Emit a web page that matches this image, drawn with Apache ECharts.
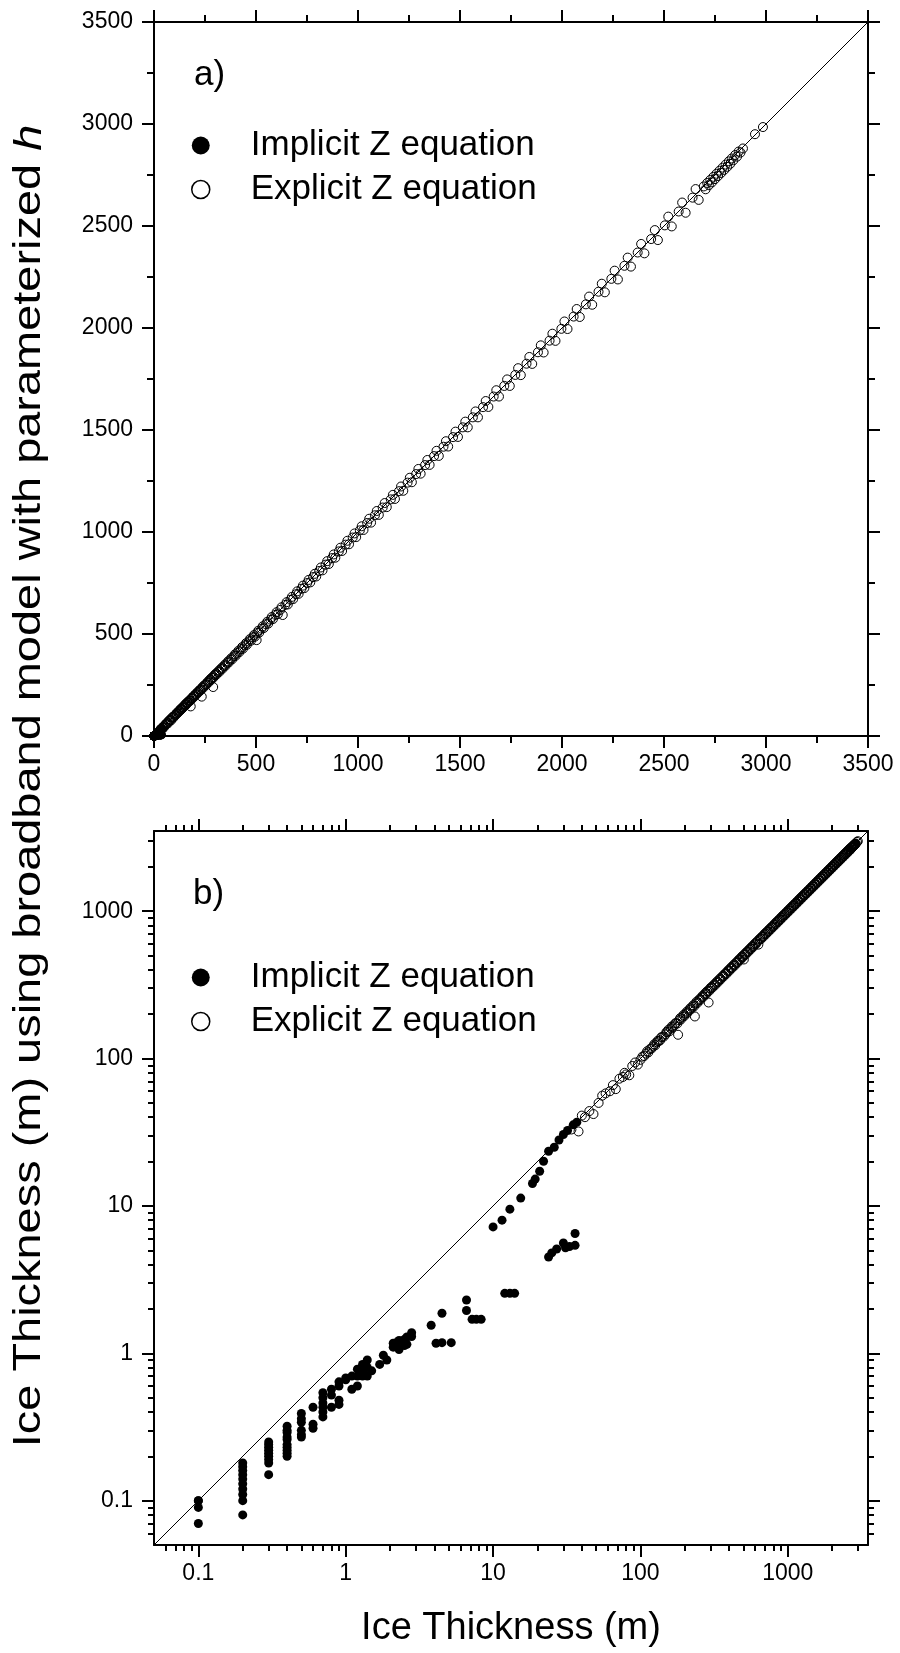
<!DOCTYPE html>
<html><head><meta charset="utf-8">
<script src="https://cdn.jsdelivr.net/npm/echarts@6/dist/echarts.min.js"></script>
<style>html,body{margin:0;padding:0;background:#fff}#c{width:900px;height:1653px}</style>
</head><body><div id="c"></div>
<script>
// ---- data ----
const implicitX = [0.1,0.1,0.1,0.1,
  0.2,0.2,0.2,0.2,0.2,0.2,0.2,0.2,0.2,0.2,
  0.3,0.3,0.3,0.3,0.3,0.3,0.3,0.3,0.3,
  0.4,0.4,0.4,0.4,0.4,0.4,0.4,0.4,0.4,0.4,
  0.5,0.5,0.5,0.5,0.5,0.5,
  0.6,0.6,0.6,
  0.7,0.7,0.7,0.7,0.7,0.7,
  0.8,0.8,0.8,
  0.9,0.9,0.9,0.9,
  1.0,1.0,1.1,1.1,1.2,1.2,1.2,1.3,1.3,1.3,1.4,1.4,1.4,1.5,1.7,1.8,1.9,
  2.1,2.1,2.2,2.2,2.3,2.3,2.5,2.5,2.6,2.6,2.8,2.8,
  3.8,4.1,4.5,4.5,5.2,6.6,6.6,7.2,7.7,8.3,
  10,11.5,12,13,13,14,15.4,18.5,19.3,20.7,22,23.8,23.8,
  26,28,30,32,35,37,
  25,27,30,31,33,36,36];
const implicitY = [0.1,0.1,0.09,0.07,
  0.18,0.17,0.16,0.15,0.14,0.13,0.12,0.11,0.1,0.08,
  0.25,0.24,0.23,0.22,0.21,0.2,0.19,0.18,0.15,
  0.32,0.3,0.29,0.27,0.26,0.24,0.23,0.22,0.21,0.2,
  0.39,0.36,0.34,0.3,0.28,0.27,
  0.43,0.33,0.31,
  0.54,0.5,0.46,0.43,0.4,0.37,
  0.57,0.52,0.43,
  0.64,0.6,0.48,0.45,
  0.68,0.66,0.7,0.57,0.78,0.7,0.6,0.84,0.75,0.7,0.9,0.8,0.7,0.76,0.84,0.97,0.9,
  1.17,1.1,1.18,1.12,1.22,1.06,1.24,1.13,1.29,1.15,1.38,1.3,
  1.55,1.17,1.87,1.18,1.18,2.3,1.95,1.7,1.7,1.7,
  7.2,8.0,2.55,9.5,2.55,2.55,11.3,14.2,15.2,17.2,20.1,23.5,4.5,
  25,28,30.5,32.5,35.5,37,
  4.8,5.1,5.6,5.2,5.3,5.4,6.5];
const explicitX = [34,38,40,42,45,48,52,55,58,62,65,68,72,76,78,80,84,88,92,96,
  100,103,106,109,113,116,119,122,126,129,133,136,140,144,148,152,157,161,165,170,174,178,180,183,188,193,198,203,208,214,
  219,225,231,234,237,243,249,255,261,267,273,279,286,290,293,300,307,314,321,328,336,343,351,359,367,375,383,392,400,409,
  418,427,436,446,455,465,475,485,495,503,506,516,527,538,549,560,571,583,595,607,619,631,644,656,669,682,696,709,723,737,
  751,766,780,795,810,826,841,857,873,889,906,922,939,956,974,991,1009,1027,1045,1064,1083,1102,1121,1141,1161,1181,1201,1222,
  1243,1264,1285,1307,1329,1351,1373,1396,1419,1442,1466,1490,1514,1538,1563,1588,1613,1639,1665,1691,1717,1744,1771,1798,
  1826,1854,1882,1910,1939,1968,1997,2027,2057,2087,2117,2148,2179,2210,2242,2274,2306,2338,2371,2404,2437,2470,2504,2538,
  2572,2606,2640,2670,2695,2704,2712,2720,2727,2735,2742,2750,2757,2765,2772,2780,2787,2795,2802,2810,2818,2825,2832,2840,
  2849,2858,2866,2875,2887,2946,2985,
  111,124,131,138,150,155,163,172,186,196,206,217,228,240,252,264,276,283,296,304,318,332,347,363,379,396,414,432,451,470,
  490,511,533,555,577,601,625,650,676,702,730,758,788,818,849,881,914,948,983,1018,1055,1092,1131,1171,1211,1254,1296,1340,
  1385,1431,1478,1526,1576,1626,1678,1731,1785,1840,1896,1953,2012,2072,2133,2195,2258,2322,2388,2455,2521,2589,2655];
const explicitY = [33,32,41,40,44,42,50,56,58,60,66,62,73,75,80,78,77,89,94,91,
  98,103,104,108,110,116,117,121,123,129,131,133,140,141,146,152,153,160,163,168,174,173,145,182,184,192,194,202,204,213,
  215,224,226,193,236,238,248,250,260,262,272,274,285,240,288,299,302,313,315,327,330,342,345,358,361,374,376,391,393,408,
  411,426,428,445,447,464,467,484,487,470,505,507,526,529,548,551,570,573,594,597,618,593,643,645,668,671,695,697,722,725,
  750,753,779,782,809,812,840,843,872,874,905,907,938,940,973,975,1008,1010,1044,1046,1082,1084,1120,1122,1160,1162,1200,1202,
  1242,1244,1284,1286,1328,1329,1372,1373,1418,1419,1465,1466,1513,1513,1562,1562,1612,1613,1664,1664,1716,1716,1770,1769,
  1825,1824,1881,1880,1938,1937,1996,1995,2056,2054,2116,2114,2178,2175,2241,2238,2305,2301,2370,2366,2436,2431,2503,2498,
  2571,2565,2639,2628,2694,2680,2711,2700,2726,2714,2741,2730,2756,2745,2771,2760,2786,2775,2801,2790,2817,2805,2831,2822,
  2848,2840,2865,2860,2880,2950,2985,
  112,125,132,139,151,157,165,173,188,198,208,219,230,243,254,267,279,286,299,307,321,335,350,366,382,400,418,436,455,475,
  495,516,538,560,583,607,631,656,682,709,737,765,795,826,857,890,923,957,993,1028,1065,1103,1142,1182,1223,1266,1309,1353,
  1398,1445,1492,1541,1591,1642,1695,1748,1803,1858,1915,1972,2032,2093,2154,2217,2281,2345,2412,2480,2546,2615,2681];
const linTickLabels = ['0','500','1000','1500','2000','2500','3000','3500'];
const logMajor = [0.1,1,10,100,1000];
const logMajorLabels = ['0.1','1','10','100','1000'];
const logMinor = [0.06,0.07,0.08,0.09,0.2,0.3,0.4,0.5,0.6,0.7,0.8,0.9,2,3,4,5,6,7,8,9,
  20,30,40,50,60,70,80,90,200,300,400,500,600,700,800,900,2000,3000];
const seriesNames = ['Implicit Z equation','Explicit Z equation'];

// ---- chart ----
const F = "'Liberation Sans', Arial, Helvetica, sans-serif";
const pairs = (xs, ys) => xs.map((x, i) => [x, ys[i]]);
const lineBlk = {color:'#000', width:2};
const gridRectA = {left:154, top:22, width:714, height:714, outerBoundsMode:'none', containLabel:false};
const gridRectB = {left:154, top:831, width:714, height:714, outerBoundsMode:'none', containLabel:false};
const lab = {color:'#000', fontSize:23, fontFamily:F};

function linAxis(pos, grid, showLabel, margin) {
  return {
    type:'value', gridIndex:grid, position:pos, min:0, max:3500, interval:500,
    axisLine:{show:true, onZero:false, lineStyle:lineBlk},
    axisTick:{show:true, inside:false, length:12, lineStyle:lineBlk},
    minorTick:{show:true, splitNumber:2, length:7, lineStyle:lineBlk},
    axisLabel:Object.assign({show:showLabel, margin:margin,
      formatter:(v)=>linTickLabels[Math.round(v/500)]}, lab),
    splitLine:{show:false}, minorSplitLine:{show:false}
  };
}
function logAxisMajor(pos, grid, showLabel, margin) {
  return {
    type:'log', logBase:10, gridIndex:grid, position:pos, min:0.05, max:3500,
    axisLine:{show:true, onZero:false, lineStyle:lineBlk},
    axisTick:{show:true, inside:false, length:12, lineStyle:lineBlk, customValues:logMajor},
    axisLabel:Object.assign({show:showLabel, margin:margin, customValues:logMajor,
      formatter:(v)=>{const i = logMajor.findIndex(m=>Math.abs(Math.log10(m)-Math.log10(v))<1e-6); return i>=0?logMajorLabels[i]:'';}}, lab),
    splitLine:{show:false}
  };
}
function logAxisMinor(pos, grid) {
  return {
    type:'log', logBase:10, gridIndex:grid, position:pos, min:0.05, max:3500,
    axisLine:{show:false, onZero:false},
    axisTick:{show:true, inside:false, length:6, lineStyle:lineBlk, customValues:logMinor},
    axisLabel:{show:false},
    splitLine:{show:false}
  };
}

const legendData = [
  {name:seriesNames[0], icon:'circle', itemStyle:{color:'#000', borderWidth:0, opacity:1}},
  {name:seriesNames[1], icon:'circle', itemStyle:{color:'#fff', borderColor:'#000', borderWidth:1.5, opacity:1}}
];
function legendAt(top) {
  return {
    left:191, top:top, orient:'vertical', itemWidth:18, itemHeight:18, itemGap:9,
    padding:0, selectedMode:false, data:legendData,
    textStyle:{color:'#000', fontSize:35, fontFamily:F, padding:[0,0,0,36]}
  };
}

const implicitStyle = {color:'#000', opacity:1};
const explicitStyle = {color:'rgba(255,255,255,0)', borderColor:'#000', borderWidth:1, opacity:1};

const option = {
  animation:false,
  backgroundColor:'#fff',
  textStyle:{fontFamily:F},
  title:[
    {text:'a)', left:194, top:58, padding:0, textStyle:{fontSize:35, fontWeight:'normal', color:'#000', fontFamily:F}},
    {text:'b)', left:193, top:877, padding:0, textStyle:{fontSize:35, fontWeight:'normal', color:'#000', fontFamily:F}}
  ],
  legend:[legendAt(128), legendAt(960)],
  grid:[gridRectA, gridRectB, Object.assign({}, gridRectB)],
  xAxis:[
    linAxis('bottom', 0, true, 17),
    linAxis('top', 0, false, 8),
    Object.assign(logAxisMajor('bottom', 1, true, 17), {
      name:'Ice Thickness (m)', nameLocation:'middle', nameGap:65,
      nameTextStyle:{color:'#000', fontSize:38, fontFamily:F}}),
    logAxisMajor('top', 1, false, 8),
    logAxisMinor('bottom', 2),
    logAxisMinor('top', 2)
  ],
  yAxis:[
    linAxis('left', 0, true, 21),
    linAxis('right', 0, false, 8),
    logAxisMajor('left', 1, true, 21),
    logAxisMajor('right', 1, false, 8),
    logAxisMinor('left', 2),
    logAxisMinor('right', 2)
  ],
  graphic:[{
    type:'text', x:30, y:786, rotation:Math.PI/2, scaleX:1.235, silent:true,
    style:{
      text:'{a|Ice Thickness (m) using broadband model with parameterized }{b|h}',
      align:'center', verticalAlign:'middle', fill:'#000', fontSize:38, fontFamily:F,
      rich:{
        a:{fontSize:38, fontFamily:F, fill:'#000', color:'#000'},
        b:{fontSize:38, fontFamily:F, fontStyle:'italic', fill:'#000', color:'#000'}
      }
    }
  }],
  series:[
    {type:'line', xAxisIndex:0, yAxisIndex:0, data:[[0,0],[3500,3500]], symbol:'none', silent:true,
      lineStyle:{color:'#000', width:1}, z:1},
    {name:seriesNames[0], type:'scatter', xAxisIndex:0, yAxisIndex:0, data:pairs(implicitX, implicitY),
      symbol:'circle', symbolSize:9, itemStyle:implicitStyle, z:2},
    {name:seriesNames[1], type:'scatter', xAxisIndex:0, yAxisIndex:0, data:pairs(explicitX, explicitY),
      symbol:'circle', symbolSize:9, itemStyle:explicitStyle, z:3},
    {type:'line', xAxisIndex:2, yAxisIndex:2, data:[[0.05,0.05],[3500,3500]], symbol:'none', silent:true,
      lineStyle:{color:'#000', width:1}, z:1},
    {name:seriesNames[0], type:'scatter', xAxisIndex:2, yAxisIndex:2, data:pairs(implicitX, implicitY),
      symbol:'circle', symbolSize:9, itemStyle:implicitStyle, z:2},
    {name:seriesNames[1], type:'scatter', xAxisIndex:2, yAxisIndex:2, data:pairs(explicitX, explicitY),
      symbol:'circle', symbolSize:9, itemStyle:explicitStyle, z:3}
  ]
};
const chart = echarts.init(document.getElementById('c'), null, {renderer:'canvas'});
chart.setOption(option);
</script>
</body></html>
